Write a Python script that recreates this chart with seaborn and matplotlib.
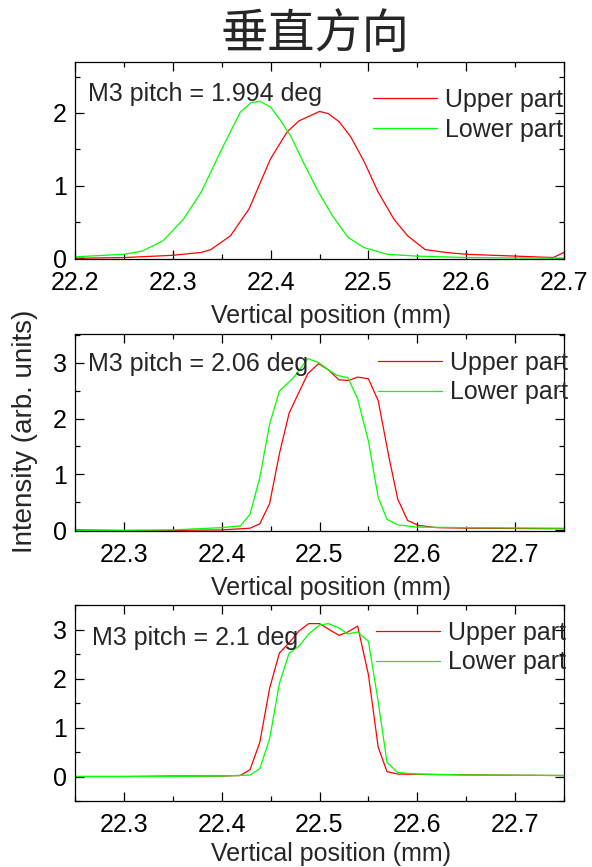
import numpy as np
import pandas as pd
import matplotlib
matplotlib.use("Agg")
import matplotlib.pyplot as plt
from matplotlib.ticker import MultipleLocator
import seaborn as sns

# ---------------- data ----------------
# Panel 1: M3 pitch = 1.994 deg
p1_upper_x = [22.200, 22.250, 22.299, 22.329, 22.339, 22.359, 22.378, 22.400, 22.417, 22.429,
              22.442, 22.450, 22.459, 22.470, 22.482, 22.496, 22.510, 22.526, 22.540, 22.558,
              22.579, 22.600, 22.650, 22.689, 22.700]
p1_upper_y = [0.00, 0.01, 0.04, 0.08, 0.12, 0.31, 0.68, 1.37, 1.74, 1.89,
              1.97, 2.02, 1.99, 1.88, 1.67, 1.32, 0.91, 0.54, 0.31, 0.12,
              0.08, 0.055, 0.03, 0.01, 0.08]
p1_lower_x = [22.200, 22.250, 22.269, 22.290, 22.311, 22.329, 22.350, 22.369, 22.380, 22.389,
              22.400, 22.410, 22.421, 22.435, 22.449, 22.463, 22.479, 22.495, 22.519, 22.549,
              22.600, 22.650, 22.700]
p1_lower_y = [0.02, 0.055, 0.10, 0.24, 0.54, 0.91, 1.50, 2.01, 2.14, 2.16,
              2.08, 1.90, 1.67, 1.28, 0.91, 0.59, 0.29, 0.15, 0.055, 0.03,
              0.01, 0.005, 0.00]

# Panel 2: M3 pitch = 2.06 deg
p2_upper_x = [22.250, 22.300, 22.350, 22.400, 22.429, 22.439, 22.449, 22.459, 22.469, 22.479,
              22.488, 22.499, 22.509, 22.520, 22.530, 22.539, 22.550, 22.560, 22.571, 22.580,
              22.590, 22.601, 22.620, 22.650, 22.750]
p2_upper_y = [0.01, 0.00, 0.00, 0.01, 0.04, 0.12, 0.48, 1.37, 2.10, 2.47,
              2.80, 2.98, 2.87, 2.69, 2.68, 2.74, 2.71, 2.32, 1.31, 0.56,
              0.18, 0.09, 0.05, 0.04, 0.03]
p2_lower_x = [22.250, 22.300, 22.350, 22.400, 22.419, 22.429, 22.439, 22.449, 22.459, 22.474,
              22.488, 22.499, 22.509, 22.518, 22.529, 22.539, 22.550, 22.560, 22.569, 22.580,
              22.599, 22.650, 22.750]
p2_lower_y = [0.00, 0.00, 0.01, 0.05, 0.08, 0.29, 0.95, 1.90, 2.49, 2.74,
              3.07, 3.00, 2.87, 2.77, 2.73, 2.35, 1.60, 0.59, 0.20, 0.10,
              0.06, 0.05, 0.04]

# Panel 3: M3 pitch = 2.1 deg
p3_upper_x = [22.250, 22.300, 22.350, 22.400, 22.419, 22.429, 22.439, 22.449, 22.459, 22.469,
              22.479, 22.489, 22.500, 22.509, 22.520, 22.529, 22.539, 22.550, 22.560, 22.569,
              22.580, 22.620, 22.670, 22.750]
p3_upper_y = [0.00, 0.00, 0.01, 0.01, 0.02, 0.14, 0.70, 1.80, 2.52, 2.73,
              2.97, 3.12, 3.12, 3.01, 2.88, 2.95, 3.07, 2.08, 0.60, 0.10,
              0.05, 0.04, 0.03, 0.02]
p3_lower_x = [22.250, 22.300, 22.350, 22.400, 22.429, 22.439, 22.449, 22.459, 22.469, 22.479,
              22.489, 22.500, 22.509, 22.520, 22.529, 22.539, 22.550, 22.560, 22.569, 22.580,
              22.600, 22.650, 22.750]
p3_lower_y = [0.00, 0.00, 0.00, 0.01, 0.03, 0.16, 0.77, 1.90, 2.52, 2.66,
              2.91, 3.09, 3.12, 3.03, 2.91, 2.95, 2.76, 1.53, 0.29, 0.08,
              0.05, 0.03, 0.02]

panel_labels = ["M3 pitch = 1.994 deg", "M3 pitch = 2.06 deg", "M3 pitch = 2.1 deg"]
series_names = ["Upper part", "Lower part"]
title_text = "垂直方向"
xlabel_text = "Vertical position (mm)"
ylabel_text = "Intensity (arb. units)"

# ---------------- style ----------------
sns.set_style("ticks")
plt.rcParams["font.family"] = ["Liberation Sans", "DejaVu Sans"]
plt.rcParams["xtick.direction"] = "in"
plt.rcParams["ytick.direction"] = "in"

W, H = 592, 867
fig = plt.figure(figsize=(W / 100, H / 100), dpi=100)

# (top_px, bottom_px) of each axes box
boxes = [(62, 259), (334, 531), (605, 801)]
left_px, right_px = 75, 564
xlims = [(22.2, 22.7), (22.25, 22.75), (22.25, 22.75)]
ylims = [(-0.01, 2.7), (-0.01, 3.51), (-0.5, 3.5)]
yticks = [[0, 1, 2], [0, 1, 2, 3], [0, 1, 2, 3]]
xticks = [[22.2, 22.3, 22.4, 22.5, 22.6, 22.7],
          [22.3, 22.4, 22.5, 22.6, 22.7],
          [22.3, 22.4, 22.5, 22.6, 22.7]]
data = [
    (p1_upper_x, p1_upper_y, p1_lower_x, p1_lower_y),
    (p2_upper_x, p2_upper_y, p2_lower_x, p2_lower_y),
    (p3_upper_x, p3_upper_y, p3_lower_x, p3_lower_y),
]
# annotation (left px, center y px)
label_px = [(88, 92), (88, 361), (92, 635)]
# legend anchor (handle start x px, first row center y px)
legend_px = [(373, 103), (378, 366), (376, 636)]
xlabel_pads = [6.6, 6.6, 4.0]
palette = {"Upper part": "#ff0000", "Lower part": "#00ff00"}

for i in range(3):
    top, bot = boxes[i]
    ax = fig.add_axes([left_px / W, 1 - bot / H, (right_px - left_px) / W, (bot - top) / H])
    ux, uy, lx, ly = data[i]
    df = pd.DataFrame({
        "x": list(ux) + list(lx),
        "y": list(uy) + list(ly),
        "series": [series_names[0]] * len(ux) + [series_names[1]] * len(lx),
    })
    sns.lineplot(data=df, x="x", y="y", hue="series", palette=palette,
                 linewidth=0.9, ax=ax, sort=True, estimator=None)
    ax.set_xlim(*xlims[i])
    ax.set_ylim(*ylims[i])
    ax.set_xticks(xticks[i])
    ax.set_xticklabels([f"{t:.1f}" for t in xticks[i]])
    ax.set_yticks(yticks[i])
    ax.xaxis.set_minor_locator(MultipleLocator(0.05))
    ax.yaxis.set_minor_locator(MultipleLocator(0.5))
    ax.tick_params(which="both", top=True, right=True, direction="in",
                   labelsize=18, width=0.9, colors="black")
    ax.tick_params(which="major", length=6.5)
    ax.tick_params(which="minor", length=3.4)
    ax.tick_params(axis="x", which="major", pad=8.3)
    ax.tick_params(axis="y", which="major", pad=6)
    for s in ax.spines.values():
        s.set_linewidth(0.9)
        s.set_color("black")
    ax.set_xlabel(xlabel_text, fontsize=18, labelpad=xlabel_pads[i])
    ax.xaxis.label.set_x((331 - left_px) / (right_px - left_px))
    ax.set_ylabel("")
    ax.text(label_px[i][0] / W, 1 - label_px[i][1] / H, panel_labels[i],
            transform=fig.transFigure, fontsize=18, ha="left", va="center_baseline")
    lx0, ly0 = legend_px[i]
    ax.legend(loc="upper left", bbox_to_anchor=(lx0 / W, 1 - (ly0 - 15) / H),
              bbox_transform=fig.transFigure, frameon=False,
              fontsize=18, handlelength=2.56, handletextpad=0.32,
              labelspacing=0.22, borderaxespad=0.0, borderpad=0.0)

fig.text(25 / W, 1 - 431 / H, ylabel_text, rotation=90, ha="center", va="center",
         fontsize=20)
fig.text(315 / W, 1 - 35 / H, title_text, ha="center", va="center", fontsize=34,
         family=["Noto Sans CJK SC", "DejaVu Sans"])

fig.savefig("out.png", dpi=100)
